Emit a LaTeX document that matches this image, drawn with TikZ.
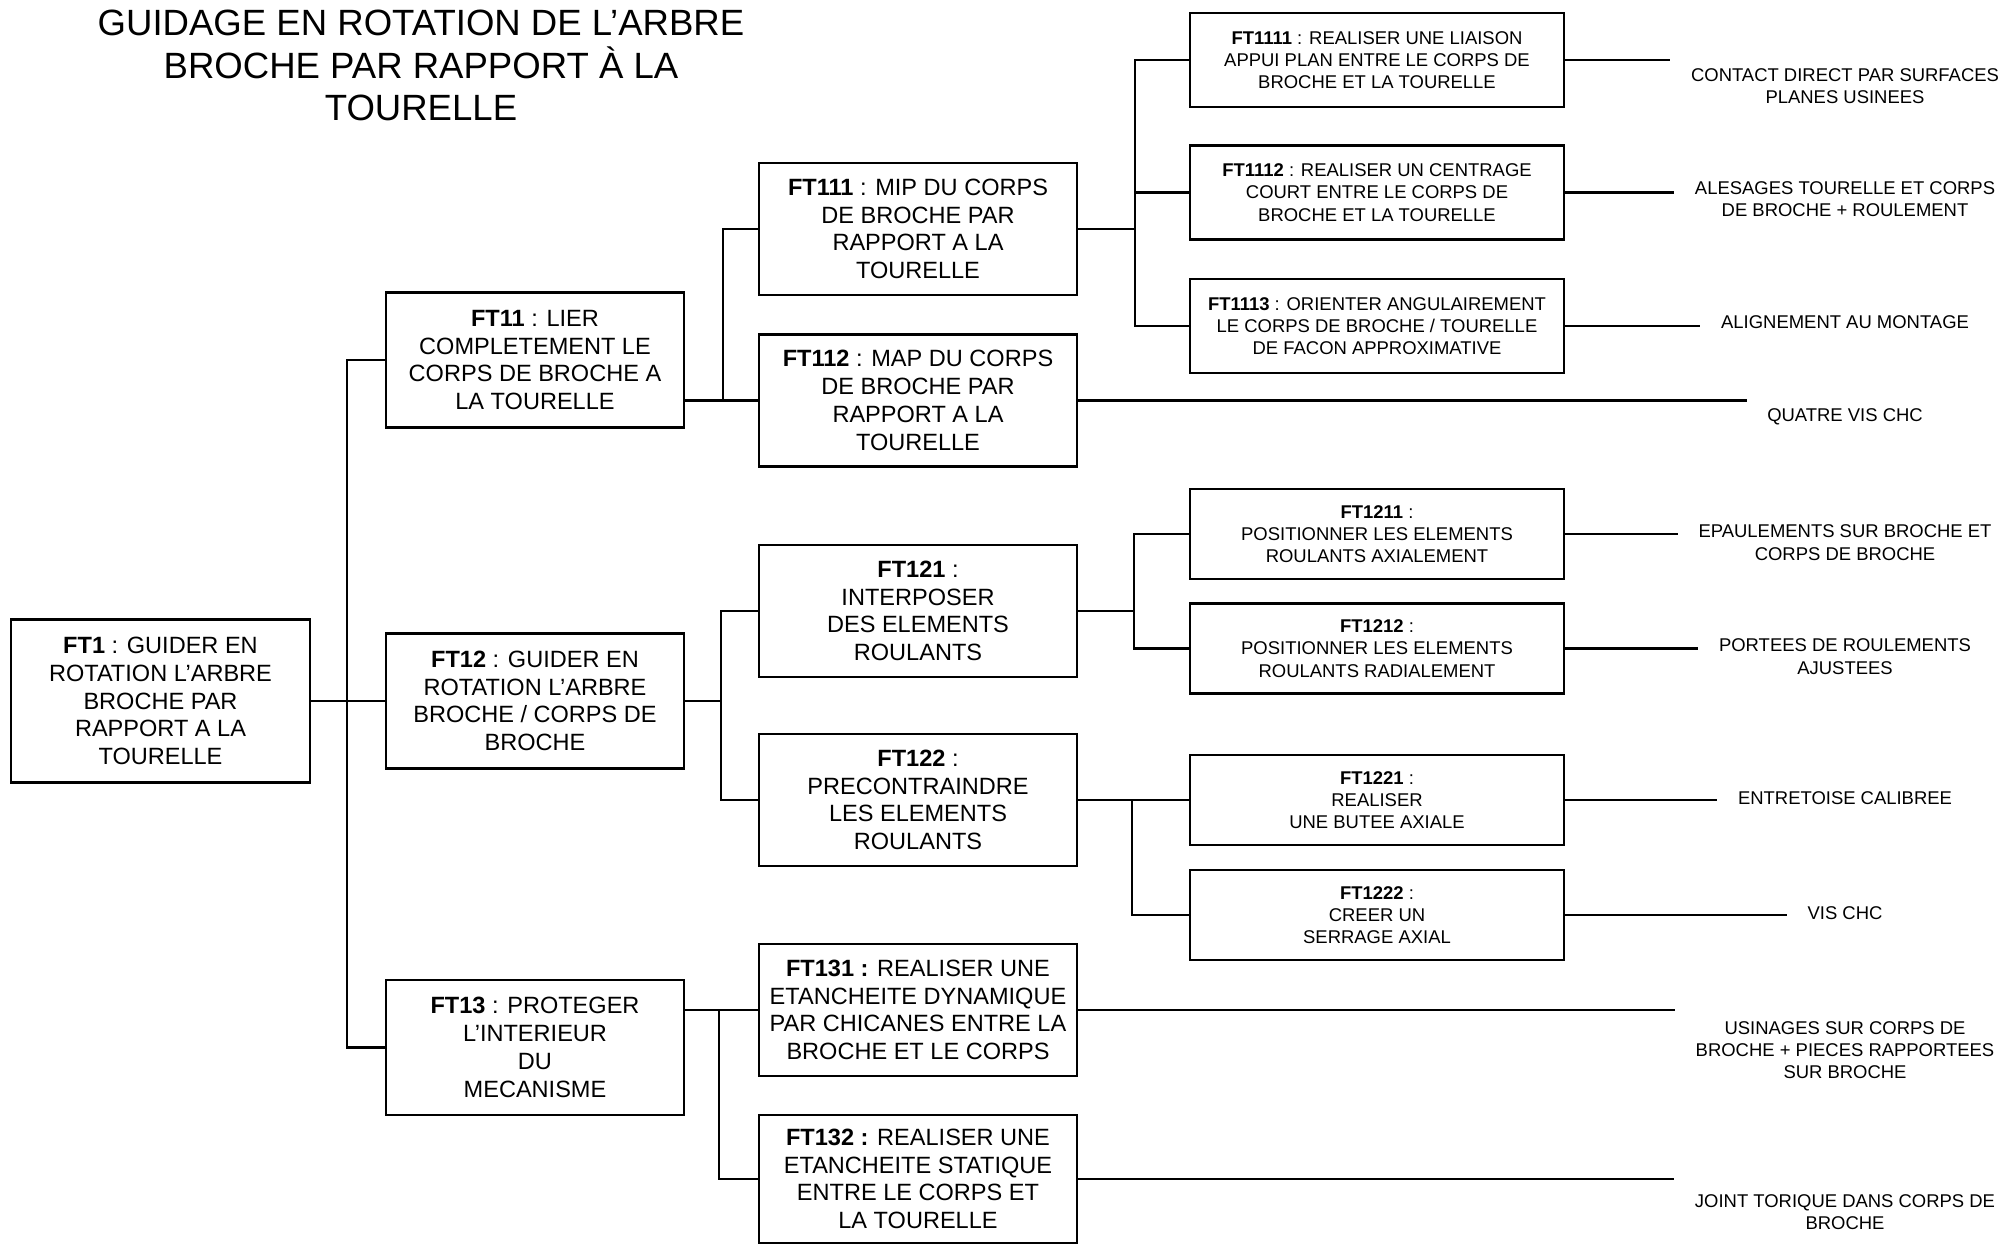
\documentclass[tikz,border=0pt]{standalone}
\usepackage{fontspec}
\setmainfont{Liberation Sans}
\usepackage{tikz}
\usetikzlibrary{positioning,calc}

\begin{document}
\begin{tikzpicture}[
    ft/.style={draw, line width=0.8pt, align=center, inner sep=0pt,
               font=\fontsize{6.7}{7.9}\selectfont},
    lvl1/.style={ft, minimum width=2.98cm, minimum height=1.35cm},
    lvl2/.style={ft, minimum width=3.18cm, minimum height=1.32cm},
    leaf/.style={ft, minimum width=3.74cm, minimum height=0.94cm,
                 font=\fontsize{5.25}{6.35}\selectfont},
    sol/.style={align=center, inner xsep=0.2cm, inner ysep=0pt,
                font=\fontsize{5.25}{6.35}\selectfont},
    link/.style={line width=0.6pt}
  ]
  \useasboundingbox (0,0) rectangle (20.09,-12.45);

  % --- Title ---
  \node[align=center, font=\fontsize{10.4}{12.2}\selectfont] (title) at (4.21,-0.655)
    {GUIDAGE EN ROTATION DE L’ARBRE\\BROCHE PAR RAPPORT À LA\\TOURELLE};

  % --- Main function ---
  \node[ft, minimum width=2.99cm, minimum height=1.63cm] (ft1) at (1.605,-7.01)
    {\textbf{FT1} : GUIDER EN\\ROTATION L’ARBRE\\BROCHE PAR\\RAPPORT A LA\\TOURELLE};

  % --- Level 1 ---
  \node[lvl1] (ft11) at (5.35,-3.60) {\textbf{FT11} : LIER\\COMPLETEMENT LE\\CORPS DE BROCHE A\\LA TOURELLE};
  \node[lvl1] (ft12) at (5.35,-7.01) {\textbf{FT12} : GUIDER EN\\ROTATION L’ARBRE\\BROCHE / CORPS DE\\BROCHE};
  \node[lvl1] (ft13) at (5.35,-10.475) {\textbf{FT13} : PROTEGER\\L’INTERIEUR\\DU\\MECANISME};

  % --- Level 2 ---
  \node[lvl2] (ft111) at (9.18,-2.29) {\textbf{FT111} : MIP DU CORPS\\DE BROCHE PAR\\RAPPORT A LA\\TOURELLE};
  \node[lvl2] (ft112) at (9.18,-4.005) {\textbf{FT112} : MAP DU CORPS\\DE BROCHE PAR\\RAPPORT A LA\\TOURELLE};
  \node[lvl2] (ft121) at (9.18,-6.11) {\textbf{FT121} :\\INTERPOSER\\DES ELEMENTS\\ROULANTS};
  \node[lvl2] (ft122) at (9.18,-8.00) {\textbf{FT122} :\\PRECONTRAINDRE\\LES ELEMENTS\\ROULANTS};
  \node[lvl2] (ft131) at (9.18,-10.10) {\textbf{FT131 :} REALISER UNE\\ETANCHEITE DYNAMIQUE\\PAR CHICANES ENTRE LA\\BROCHE ET LE CORPS};
  \node[lvl2, minimum height=1.28cm] (ft132) at (9.18,-11.79) {\textbf{FT132 :} REALISER UNE\\ETANCHEITE STATIQUE\\ENTRE LE CORPS ET\\LA TOURELLE};

  % --- Level 3 ---
  \node[leaf] (ft1111) at (13.77,-0.60) {\textbf{FT1111} : REALISER UNE LIAISON\\APPUI PLAN ENTRE LE CORPS DE\\BROCHE ET LA TOURELLE};
  \node[leaf] (ft1112) at (13.77,-1.925) {\textbf{FT1112} : REALISER UN CENTRAGE\\COURT ENTRE LE CORPS DE\\BROCHE ET LA TOURELLE};
  \node[leaf] (ft1113) at (13.77,-3.26) {\textbf{FT1113} : ORIENTER ANGULAIREMENT\\LE CORPS DE BROCHE / TOURELLE\\DE FACON APPROXIMATIVE};
  \node[leaf, minimum height=0.90cm] (ft1211) at (13.77,-5.34) {\textbf{FT1211} :\\POSITIONNER LES ELEMENTS\\ROULANTS AXIALEMENT};
  \node[leaf, minimum height=0.90cm] (ft1212) at (13.77,-6.485) {\textbf{FT1212} :\\POSITIONNER LES ELEMENTS\\ROULANTS RADIALEMENT};
  \node[leaf, minimum height=0.90cm] (ft1221) at (13.77,-8.00) {\textbf{FT1221} :\\REALISER\\UNE BUTEE AXIALE};
  \node[leaf, minimum height=0.90cm] (ft1222) at (13.77,-9.15) {\textbf{FT1222} :\\CREER UN\\SERRAGE AXIAL};

  % --- Solutions ---
  \node[sol] (s1111) at (18.45,-0.86) {CONTACT DIRECT PAR SURFACES\\PLANES USINEES};
  \node[sol] (s1112) at (18.45,-1.99) {ALESAGES TOURELLE ET CORPS\\DE BROCHE + ROULEMENT};
  \node[sol] (s1113) at (18.45,-3.22) {ALIGNEMENT AU MONTAGE};
  \node[sol] (s112) at (18.45,-4.17) {QUATRE VIS CHC};
  \node[sol] (s1211) at (18.45,-5.425) {EPAULEMENTS SUR BROCHE ET\\CORPS DE BROCHE};
  \node[sol] (s1212) at (18.45,-6.565) {PORTEES DE ROULEMENTS\\AJUSTEES};
  \node[sol] (s1221) at (18.45,-7.98) {ENTRETOISE CALIBREE};
  \node[sol] (s1222) at (18.45,-9.13) {VIS CHC};
  \node[sol] (s131) at (18.45,-10.50) {USINAGES SUR CORPS DE\\BROCHE + PIECES RAPPORTEES\\SUR BROCHE};
  \node[sol] (s132) at (18.45,-12.12) {JOINT TORIQUE DANS CORPS DE\\BROCHE};

  % --- Tree links ---
  \draw[link] (ft11.west) -- ++(-0.375,0) |- (ft1.east);
  \draw[link] (ft12.west) -- ++(-0.375,0) |- (ft1.east);
  \draw[link] (ft13.west) -- ++(-0.375,0) |- (ft1.east);

  \draw[link] (ft112.west) -- (ft112.west -| ft11.east);
  \draw[link] (ft111.west) -- ++(-0.35,0) |- (ft112.west);
  \draw[link] (ft121.west) -- ++(-0.37,0) |- (ft12.east);
  \draw[link] (ft122.west) -- ++(-0.37,0) |- (ft12.east);
  \draw[link] (ft131.west) -- (ft131.west -| ft13.east);
  \draw[link] (ft132.west) -- ++(-0.39,0) |- (ft131.west);

  \draw[link] (ft1111.west) -- ++(-0.54,0) |- (ft111.east);
  \draw[link] (ft1112.west) -- ++(-0.54,0) |- (ft111.east);
  \draw[link] (ft1113.west) -- ++(-0.54,0) |- (ft111.east);
  \draw[link] (ft1211.west) -- ++(-0.55,0) |- (ft121.east);
  \draw[link] (ft1212.west) -- ++(-0.55,0) |- (ft121.east);
  \draw[link] (ft1221.west) -- ++(-0.57,0) |- (ft122.east);
  \draw[link] (ft1222.west) -- ++(-0.57,0) |- (ft122.east);

  % --- Links to solutions ---
  \draw[link] (ft1111.east) -- (ft1111.east -| s1111.west);
  \draw[link] (ft1112.east) -- (ft1112.east -| s1112.west);
  \draw[link] (ft1113.east) -- (ft1113.east -| s1113.west);
  \draw[link] (ft112.east) -- (ft112.east -| s112.west);
  \draw[link] (ft1211.east) -- (ft1211.east -| s1211.west);
  \draw[link] (ft1212.east) -- (ft1212.east -| s1212.west);
  \draw[link] (ft1221.east) -- (ft1221.east -| s1221.west);
  \draw[link] (ft1222.east) -- (ft1222.east -| s1222.west);
  \draw[link] (ft131.east) -- (ft131.east -| s131.west);
  \draw[link] (ft132.east) -- (ft132.east -| s132.west);
\end{tikzpicture}
\end{document}
